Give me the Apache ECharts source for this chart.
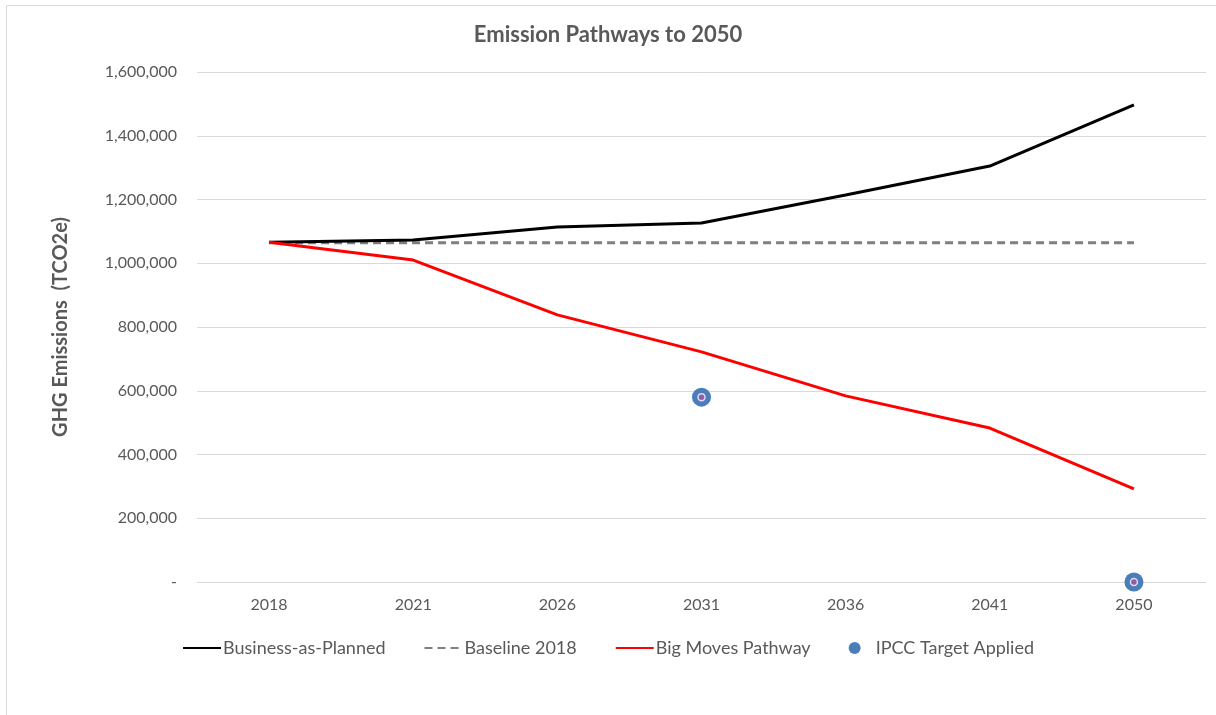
<!DOCTYPE html>
<html>
<head>
<meta charset="utf-8">
<script src="https://cdn.jsdelivr.net/npm/echarts@6/dist/echarts.min.js"></script>
<style>
  html, body { margin: 0; padding: 0; background: #fff; }
  #chart { width: 1216px; height: 715px; }
</style>
</head>
<body>
<div id="chart"></div>
<script>
// data
const years = ['2018', '2021', '2026', '2031', '2036', '2041', '2050']
const businessAsPlanned = [1066000, 1073000, 1114000, 1126000, 1214000, 1305000, 1497000]
const baseline2018 = [1064000, 1064000, 1064000, 1064000, 1064000, 1064000, 1064000]
const bigMoves = [1066000, 1010000, 838000, 722000, 584000, 483000, 292000]
const ipccTarget = [null, null, null, 580000, null, null, 0]

const font = 'Lato, "Open Sans", sans-serif'
const grey = '#595959'

const chart = echarts.init(document.getElementById('chart'), null, { renderer: 'canvas' })

// legend line items: keep the line, hide the symbol drawn in the middle
const hideSymbol = { opacity: 0 }

chart.setOption({
  animation: false,
  backgroundColor: '#fff',
  graphic: [{
    // thin frame like the Excel chart area
    type: 'polyline',
    shape: { points: [[6.5, 715], [6.5, 5.5], [1216, 5.5]] },
    style: { stroke: '#d9d9d9', lineWidth: 1, fill: null }
  }],
  title: {
    text: 'Emission Pathways to 2050',
    left: 'center',
    top: 19,
    textStyle: { fontFamily: font, fontSize: 22, fontWeight: 'bold', color: grey }
  },
  legend: {
    bottom: 53,
    left: 'center',
    itemWidth: 38,
    itemHeight: 12,
    itemGap: 38,
    textStyle: { fontFamily: font, fontSize: 18, color: grey, padding: [0, 0, 0, -3] },
    data: [
      { name: 'Business-as-Planned', itemStyle: hideSymbol },
      { name: 'Baseline 2018', itemStyle: hideSymbol },
      { name: 'Big Moves Pathway', itemStyle: hideSymbol },
      { name: 'IPCC Target Applied', icon: 'circle' }
    ]
  },
  grid: { left: 197, right: 10, top: 72, bottom: 133 },
  xAxis: {
    type: 'category',
    data: years,
    boundaryGap: true,
    axisLine: { show: false },
    axisTick: { show: false },
    axisLabel: { fontFamily: font, fontSize: 16, color: grey, margin: 15 }
  },
  yAxis: {
    type: 'value',
    min: 0,
    max: 1600000,
    interval: 200000,
    name: 'GHG Emissions  (TCO2e)',
    nameLocation: 'middle',
    nameGap: 126,
    nameTextStyle: { fontFamily: font, fontSize: 20, fontWeight: 'bold', color: grey },
    axisLine: { show: false },
    axisTick: { show: false },
    splitLine: { lineStyle: { color: '#d9d9d9', width: 1 } },
    axisLabel: {
      fontFamily: font, fontSize: 16, color: grey, margin: 20,
      formatter: v => v === 0 ? '-' : v.toLocaleString('en-US')
    }
  },
  series: [
    {
      name: 'Business-as-Planned',
      type: 'line',
      data: businessAsPlanned,
      symbol: 'none',
      lineStyle: { color: '#000', width: 3 },
      itemStyle: { color: '#000' },
      z: 4
    },
    {
      name: 'Baseline 2018',
      type: 'line',
      data: baseline2018,
      symbol: 'none',
      lineStyle: { color: '#7f7f7f', width: 3, type: [8, 5] },
      itemStyle: { color: '#7f7f7f' },
      z: 3
    },
    {
      name: 'Big Moves Pathway',
      type: 'line',
      data: bigMoves,
      symbol: 'none',
      lineStyle: { color: '#ff0000', width: 3 },
      itemStyle: { color: '#ff0000' },
      z: 5
    },
    {
      name: 'IPCC Target Applied',
      type: 'scatter',
      data: ipccTarget,
      symbol: 'circle',
      symbolSize: 19,
      itemStyle: { color: '#4a7ebb', opacity: 1 },
      z: 6
    },
    {
      // small centre dot inside the IPCC markers
      name: 'IPCC centre',
      type: 'scatter',
      data: ipccTarget,
      symbol: 'circle',
      symbolSize: 7,
      itemStyle: { color: '#8a5fa8', borderColor: '#e4d6ef', borderWidth: 1.5, opacity: 1 },
      silent: true,
      z: 7
    }
  ]
})
</script>
</body>
</html>
